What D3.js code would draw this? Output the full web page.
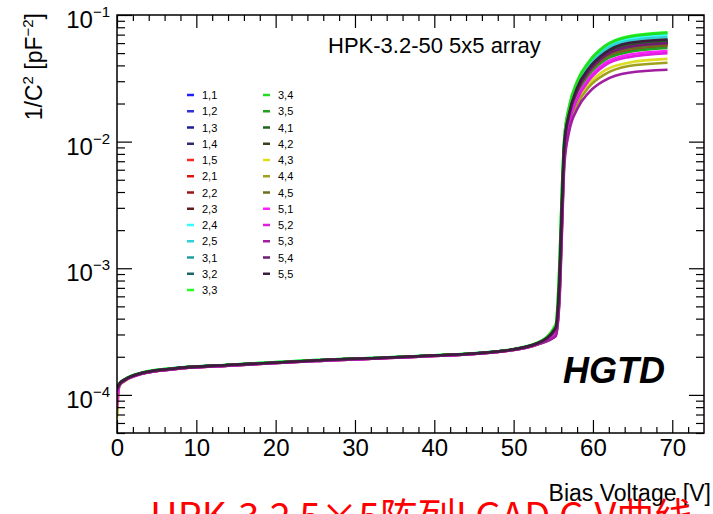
<!DOCTYPE html>
<html>
<head>
<meta charset="utf-8">
<script src="https://cdn.jsdelivr.net/npm/d3@7"></script>
<style>
  body { margin: 0; background: #fff; }
  svg { display: block; font-family: "Liberation Sans", Arial, Helvetica, sans-serif; }
</style>
</head>
<body>
<div id="chart"></div>
<script>
// bias voltage points (V), shared by every pad
const voltage = [0, 0.3, 1, 3, 7, 14, 25, 38, 48, 53, 55.3, 55.8, 56.1, 56.4, 57, 58, 59.5, 61.5, 64.5, 69.4];

// 1/C^2 in pF^-2 for each pad of the 5x5 array
const c11 = [1.13e-4, 1.22e-4, 1.32e-4, 1.48e-4, 1.61e-4, 1.72e-4, 1.87e-4, 2.02e-4, 2.2e-4, 2.55e-4, 3.3e-4, 8.5e-4, 3.2e-3, 9.5e-3, 1.6e-2, 2.5e-2, 3.6e-2, 4.8e-2, 5.6e-2, 6.0e-2];
const c12 = [1.12e-4, 1.22e-4, 1.32e-4, 1.48e-4, 1.61e-4, 1.72e-4, 1.87e-4, 2.02e-4, 2.2e-4, 2.56e-4, 3.4e-4, 9.0e-4, 3.4e-3, 9.8e-3, 1.65e-2, 2.6e-2, 3.7e-2, 4.9e-2, 5.8e-2, 6.2e-2];
const c13 = [1.11e-4, 1.21e-4, 1.31e-4, 1.47e-4, 1.60e-4, 1.71e-4, 1.86e-4, 2.01e-4, 2.19e-4, 2.54e-4, 3.3e-4, 8.2e-4, 3.1e-3, 9.2e-3, 1.6e-2, 2.55e-2, 3.65e-2, 4.85e-2, 5.7e-2, 6.1e-2];
const c14 = [1.13e-4, 1.22e-4, 1.32e-4, 1.48e-4, 1.61e-4, 1.72e-4, 1.87e-4, 2.02e-4, 2.2e-4, 2.55e-4, 3.35e-4, 8.8e-4, 3.3e-3, 9.6e-3, 1.65e-2, 2.6e-2, 3.75e-2, 5.0e-2, 5.9e-2, 6.3e-2];
const c15 = [1.10e-4, 1.21e-4, 1.31e-4, 1.47e-4, 1.60e-4, 1.71e-4, 1.86e-4, 2.01e-4, 2.19e-4, 2.53e-4, 3.2e-4, 7.6e-4, 2.8e-3, 8.8e-3, 1.55e-2, 2.45e-2, 3.5e-2, 4.6e-2, 5.4e-2, 5.8e-2];
const c21 = [1.11e-4, 1.21e-4, 1.31e-4, 1.47e-4, 1.60e-4, 1.71e-4, 1.86e-4, 2.01e-4, 2.19e-4, 2.53e-4, 3.25e-4, 7.8e-4, 2.9e-3, 8.9e-3, 1.55e-2, 2.4e-2, 3.45e-2, 4.5e-2, 5.3e-2, 5.7e-2];
const c22 = [1.12e-4, 1.22e-4, 1.32e-4, 1.48e-4, 1.61e-4, 1.72e-4, 1.87e-4, 2.02e-4, 2.2e-4, 2.55e-4, 3.3e-4, 8.4e-4, 3.1e-3, 9.3e-3, 1.6e-2, 2.5e-2, 3.6e-2, 4.75e-2, 5.6e-2, 6.0e-2];
const c23 = [1.12e-4, 1.22e-4, 1.32e-4, 1.48e-4, 1.61e-4, 1.72e-4, 1.87e-4, 2.02e-4, 2.2e-4, 2.55e-4, 3.35e-4, 8.6e-4, 3.2e-3, 9.5e-3, 1.62e-2, 2.58e-2, 3.7e-2, 4.9e-2, 5.8e-2, 6.2e-2];
const c24 = [1.14e-4, 1.23e-4, 1.33e-4, 1.49e-4, 1.62e-4, 1.73e-4, 1.88e-4, 2.03e-4, 2.21e-4, 2.57e-4, 3.5e-4, 1.1e-3, 4.2e-3, 1.05e-2, 1.8e-2, 2.85e-2, 4.1e-2, 5.5e-2, 6.5e-2, 7.0e-2];
const c25 = [1.13e-4, 1.22e-4, 1.32e-4, 1.48e-4, 1.61e-4, 1.72e-4, 1.87e-4, 2.02e-4, 2.2e-4, 2.56e-4, 3.45e-4, 1.0e-3, 3.9e-3, 1.02e-2, 1.75e-2, 2.75e-2, 3.95e-2, 5.3e-2, 6.25e-2, 6.7e-2];
const c31 = [1.12e-4, 1.22e-4, 1.32e-4, 1.48e-4, 1.61e-4, 1.72e-4, 1.87e-4, 2.02e-4, 2.2e-4, 2.56e-4, 3.4e-4, 9.2e-4, 3.5e-3, 9.9e-3, 1.68e-2, 2.65e-2, 3.8e-2, 5.05e-2, 6.0e-2, 6.4e-2];
const c32 = [1.12e-4, 1.22e-4, 1.32e-4, 1.48e-4, 1.61e-4, 1.72e-4, 1.87e-4, 2.02e-4, 2.2e-4, 2.55e-4, 3.35e-4, 8.7e-4, 3.3e-3, 9.6e-3, 1.63e-2, 2.58e-2, 3.7e-2, 4.9e-2, 5.8e-2, 6.2e-2];
const c33 = [1.14e-4, 1.23e-4, 1.33e-4, 1.49e-4, 1.62e-4, 1.73e-4, 1.88e-4, 2.03e-4, 2.21e-4, 2.58e-4, 3.6e-4, 1.2e-3, 4.5e-3, 1.1e-2, 1.9e-2, 3.0e-2, 4.3e-2, 5.7e-2, 6.8e-2, 7.3e-2];
const c34 = [1.14e-4, 1.23e-4, 1.33e-4, 1.49e-4, 1.62e-4, 1.73e-4, 1.88e-4, 2.03e-4, 2.21e-4, 2.57e-4, 3.55e-4, 1.15e-3, 4.4e-3, 1.08e-2, 1.88e-2, 2.95e-2, 4.25e-2, 5.65e-2, 6.7e-2, 7.2e-2];
const c35 = [1.11e-4, 1.21e-4, 1.31e-4, 1.47e-4, 1.60e-4, 1.71e-4, 1.86e-4, 2.01e-4, 2.19e-4, 2.53e-4, 3.2e-4, 7.5e-4, 2.7e-3, 8.5e-3, 1.5e-2, 2.35e-2, 3.35e-2, 4.4e-2, 5.1e-2, 5.5e-2];
const c41 = [1.12e-4, 1.22e-4, 1.32e-4, 1.48e-4, 1.61e-4, 1.72e-4, 1.87e-4, 2.02e-4, 2.2e-4, 2.55e-4, 3.35e-4, 8.8e-4, 3.3e-3, 9.6e-3, 1.65e-2, 2.6e-2, 3.75e-2, 4.95e-2, 5.9e-2, 6.3e-2];
const c42 = [1.12e-4, 1.22e-4, 1.32e-4, 1.48e-4, 1.61e-4, 1.72e-4, 1.87e-4, 2.02e-4, 2.2e-4, 2.55e-4, 3.3e-4, 8.3e-4, 3.1e-3, 9.3e-3, 1.6e-2, 2.5e-2, 3.6e-2, 4.75e-2, 5.6e-2, 6.0e-2];
const c43 = [6.5e-5, 1.18e-4, 1.29e-4, 1.46e-4, 1.59e-4, 1.70e-4, 1.85e-4, 2.0e-4, 2.18e-4, 2.5e-4, 3.0e-4, 6.5e-4, 2.3e-3, 7.5e-3, 1.35e-2, 2.05e-2, 2.85e-2, 3.65e-2, 4.2e-2, 4.5e-2];
const c44 = [7.0e-5, 1.18e-4, 1.29e-4, 1.46e-4, 1.59e-4, 1.70e-4, 1.85e-4, 2.0e-4, 2.18e-4, 2.5e-4, 2.95e-4, 6.2e-4, 2.2e-3, 7.2e-3, 1.3e-2, 1.95e-2, 2.7e-2, 3.4e-2, 3.95e-2, 4.2e-2];
const c45 = [1.11e-4, 1.21e-4, 1.31e-4, 1.47e-4, 1.60e-4, 1.71e-4, 1.86e-4, 2.01e-4, 2.19e-4, 2.54e-4, 3.25e-4, 8.0e-4, 2.9e-3, 9.0e-3, 1.56e-2, 2.45e-2, 3.5e-2, 4.6e-2, 5.4e-2, 5.8e-2];
const c51 = [8.0e-5, 1.19e-4, 1.30e-4, 1.46e-4, 1.59e-4, 1.70e-4, 1.85e-4, 2.0e-4, 2.18e-4, 2.51e-4, 3.0e-4, 6.6e-4, 2.4e-3, 7.8e-3, 1.42e-2, 2.2e-2, 3.15e-2, 4.15e-2, 4.85e-2, 5.2e-2];
const c52 = [9.0e-5, 1.19e-4, 1.30e-4, 1.46e-4, 1.59e-4, 1.70e-4, 1.85e-4, 2.0e-4, 2.18e-4, 2.51e-4, 3.0e-4, 6.5e-4, 2.35e-3, 7.6e-3, 1.4e-2, 2.15e-2, 3.05e-2, 4.0e-2, 4.65e-2, 5.0e-2];
const c53 = [1.08e-4, 1.19e-4, 1.30e-4, 1.46e-4, 1.59e-4, 1.70e-4, 1.85e-4, 2.0e-4, 2.18e-4, 2.5e-4, 2.9e-4, 5.8e-4, 2.0e-3, 6.6e-3, 1.2e-2, 1.8e-2, 2.45e-2, 3.05e-2, 3.5e-2, 3.7e-2];
const c54 = [1.12e-4, 1.22e-4, 1.32e-4, 1.48e-4, 1.61e-4, 1.72e-4, 1.87e-4, 2.02e-4, 2.2e-4, 2.55e-4, 3.3e-4, 8.3e-4, 3.1e-3, 9.3e-3, 1.6e-2, 2.5e-2, 3.6e-2, 4.75e-2, 5.6e-2, 6.0e-2];
const c55 = [1.12e-4, 1.22e-4, 1.32e-4, 1.48e-4, 1.61e-4, 1.72e-4, 1.87e-4, 2.02e-4, 2.2e-4, 2.56e-4, 3.4e-4, 9.0e-4, 3.4e-3, 9.8e-3, 1.67e-2, 2.65e-2, 3.8e-2, 5.0e-2, 6.0e-2, 6.4e-2];

const pads = ["1,1", "1,2", "1,3", "1,4", "1,5", "2,1", "2,2", "2,3", "2,4", "2,5", "3,1", "3,2", "3,3",
              "3,4", "3,5", "4,1", "4,2", "4,3", "4,4", "4,5", "5,1", "5,2", "5,3", "5,4", "5,5"];
const padColors = ["#1f1fff", "#3030d8", "#1c1c98", "#2c2c6c", "#ff2525", "#dd1414", "#9e1414", "#5e1e1e", "#33ffff",
                   "#2ed2d2", "#1f9e9e", "#1e6464", "#22ff22", "#22dd22", "#22a022", "#1e641e", "#403f1c", "#dddd22",
                   "#a0a01e", "#6e6e1e", "#ff22ff", "#e01ee0", "#a01ea0", "#6e1e6e", "#3c1e3c"];
const curves = [c11, c12, c13, c14, c15, c21, c22, c23, c24, c25, c31, c32, c33,
                c34, c35, c41, c42, c43, c44, c45, c51, c52, c53, c54, c55];

const xMajor = [0, 10, 20, 30, 40, 50, 60, 70];
const xMinor = [2, 4, 6, 8, 12, 14, 16, 18, 22, 24, 26, 28, 32, 34, 36, 38, 42, 44, 46, 48, 52, 54, 56, 58, 62, 64, 66, 68, 72];
const yMajor = [1e-4, 1e-3, 1e-2, 1e-1];
const yExponents = ["\u22124", "\u22123", "\u22122", "\u22121"];
const yMinor = [5e-5, 6e-5, 7e-5, 8e-5, 9e-5, 2e-4, 3e-4, 4e-4, 5e-4, 6e-4, 7e-4, 8e-4, 9e-4,
                2e-3, 3e-3, 4e-3, 5e-3, 6e-3, 7e-3, 8e-3, 9e-3, 2e-2, 3e-2, 4e-2, 5e-2, 6e-2, 7e-2, 8e-2, 9e-2];

const width = 713, height = 514;
const plotLeft = 117, plotRight = 704, plotTop = 15, plotBottom = 433;

const svg = d3.select("#chart").append("svg")
  .attr("width", width)
  .attr("height", height);

const x = d3.scaleLinear().domain([0, 74]).range([plotLeft, plotRight]);
const y = d3.scaleLog().domain([5e-5, 0.1]).range([plotBottom, plotTop]);

svg.append("clipPath").attr("id", "plot")
  .append("rect")
  .attr("x", plotLeft).attr("y", plotTop)
  .attr("width", plotRight - plotLeft).attr("height", plotBottom - plotTop);

// curves
const line = d3.line()
  .x((d, i) => x(voltage[i]))
  .y(d => y(d))
  .curve(d3.curveMonotoneX);

svg.append("g")
  .attr("clip-path", "url(#plot)")
  .selectAll("path")
  .data(curves)
  .enter()
  .append("path")
  .attr("d", d => line(d))
  .attr("fill", "none")
  .attr("stroke", (d, i) => padColors[i])
  .attr("stroke-width", 2.6)
  .attr("stroke-linejoin", "round");

// axes, ROOT style ticks pointing inwards on all four sides
function styleAxis(g) {
  g.select(".domain").remove();
  g.selectAll(".tick line").attr("stroke", "#000").attr("stroke-width", 1.2);
}

svg.append("g")
  .attr("transform", `translate(0,${plotBottom})`)
  .call(d3.axisBottom(x).tickValues(xMajor).tickSizeInner(-13).tickSizeOuter(0).tickPadding(6))
  .call(styleAxis)
  .call(g => g.selectAll("text").attr("font-size", 24).attr("fill", "#000")
    .attr("font-family", "'Liberation Sans', Arial, sans-serif"));

svg.append("g")
  .attr("transform", `translate(0,${plotBottom})`)
  .call(d3.axisBottom(x).tickValues(xMinor).tickSize(-6).tickFormat(""))
  .call(styleAxis);

svg.append("g")
  .attr("transform", `translate(0,${plotTop})`)
  .call(d3.axisTop(x).tickValues(xMajor).tickSize(-13).tickFormat(""))
  .call(styleAxis);

svg.append("g")
  .attr("transform", `translate(0,${plotTop})`)
  .call(d3.axisTop(x).tickValues(xMinor).tickSize(-6).tickFormat(""))
  .call(styleAxis);

svg.append("g")
  .attr("transform", `translate(${plotLeft},0)`)
  .call(d3.axisLeft(y).tickValues(yMajor).tickSize(-15).tickFormat(""))
  .call(styleAxis);

svg.append("g")
  .attr("transform", `translate(${plotLeft},0)`)
  .call(d3.axisLeft(y).tickValues(yMinor).tickSize(-8).tickFormat(""))
  .call(styleAxis);

svg.append("g")
  .attr("transform", `translate(${plotRight},0)`)
  .call(d3.axisRight(y).tickValues(yMajor).tickSize(-15).tickFormat(""))
  .call(styleAxis);

svg.append("g")
  .attr("transform", `translate(${plotRight},0)`)
  .call(d3.axisRight(y).tickValues(yMinor).tickSize(-8).tickFormat(""))
  .call(styleAxis);

// y tick labels as 10^n
const yLabels = svg.append("g").selectAll("text")
  .data(yMajor)
  .enter()
  .append("text")
  .attr("x", plotLeft - 7)
  .attr("y", d => y(d) + 13)
  .attr("text-anchor", "end")
  .attr("fill", "#000");
yLabels.append("tspan").attr("font-size", 24).text("10");
yLabels.append("tspan").attr("font-size", 15).attr("dy", -11).text((d, i) => yExponents[i]);

// frame
svg.append("rect")
  .attr("x", plotLeft).attr("y", plotTop)
  .attr("width", plotRight - plotLeft).attr("height", plotBottom - plotTop)
  .attr("fill", "none")
  .attr("stroke", "#000")
  .attr("stroke-width", 1.5);

// axis titles
const yTitle = svg.append("text")
  .attr("transform", "translate(42,13) rotate(-90)")
  .attr("text-anchor", "end")
  .attr("font-size", 23)
  .attr("fill", "#000");
yTitle.append("tspan").text("1/C");
yTitle.append("tspan").attr("font-size", 15).attr("dy", -9).text("2");
yTitle.append("tspan").attr("dy", 9).text(" [pF");
yTitle.append("tspan").attr("font-size", 15).attr("dy", -9).text("\u22122");
yTitle.append("tspan").attr("dy", 9).text("]");

svg.append("text")
  .attr("x", 711).attr("y", 501)
  .attr("text-anchor", "end")
  .attr("font-size", 23)
  .attr("fill", "#000")
  .text("Bias Voltage [V]");

svg.append("text")
  .attr("x", 328).attr("y", 53)
  .attr("font-size", 22)
  .attr("fill", "#000")
  .text("HPK-3.2-50 5x5 array");

svg.append("text")
  .attr("x", 563).attr("y", 383)
  .attr("font-size", 36)
  .attr("font-weight", "bold")
  .attr("font-style", "italic")
  .attr("fill", "#000")
  .text("HGTD");

// legend, two columns
const legend = svg.append("g")
  .selectAll("g")
  .data(pads)
  .enter()
  .append("g")
  .attr("transform", (d, i) => {
    const col = i < 13 ? 0 : 1;
    const row = i < 13 ? i : i - 13;
    return `translate(${col === 0 ? 187 : 263},${95 + row * 16.25})`;
  });

legend.append("line")
  .attr("x1", 0).attr("x2", 7)
  .attr("stroke", (d, i) => padColors[i])
  .attr("stroke-width", 2.5);

legend.append("text")
  .attr("x", 15).attr("y", 4)
  .attr("font-size", 11)
  .attr("fill", "#000")
  .text(d => d);

// caption below the figure
svg.append("text")
  .attr("x", 150).attr("y", 530)
  .attr("font-size", 38)
  .attr("font-family", "'Noto Sans CJK SC', sans-serif")
  .attr("fill", "#ff0000")
  .text("HPK-3.2 5×5阵列LGAD C-V曲线");
</script>
</body>
</html>
